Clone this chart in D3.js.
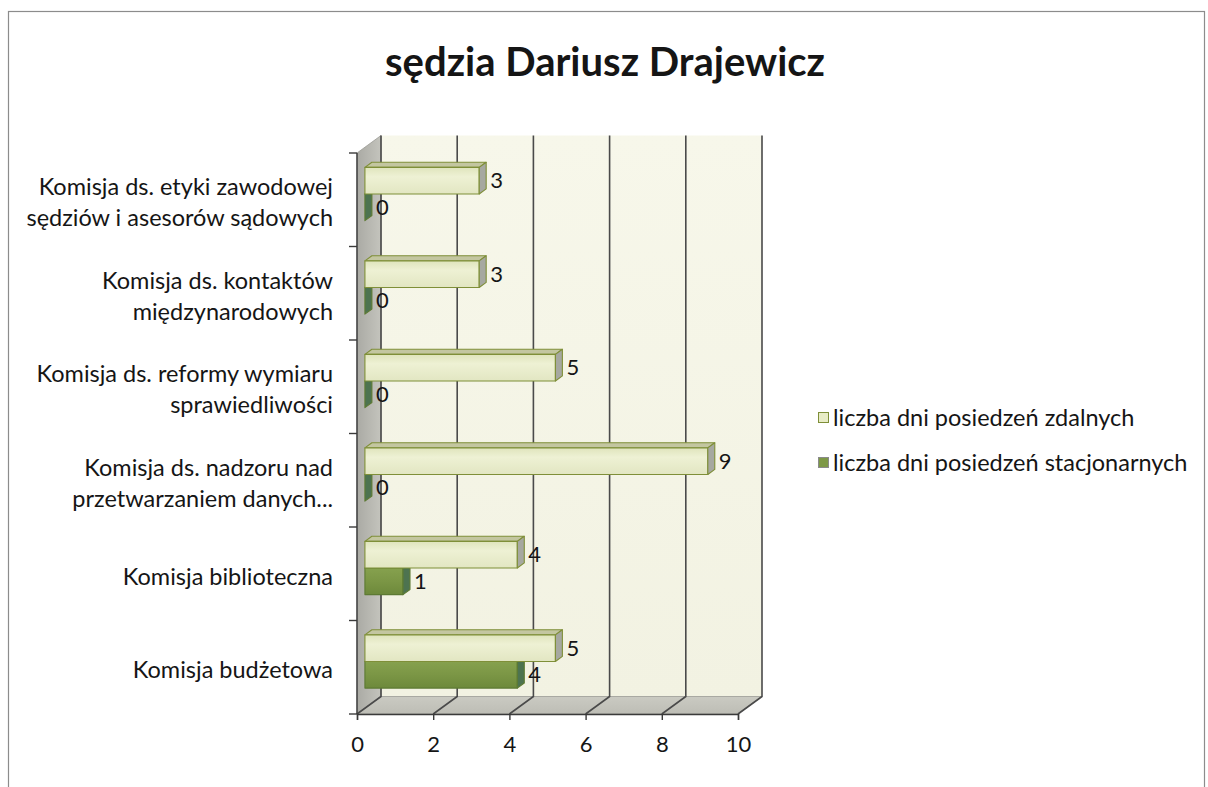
<!DOCTYPE html>
<html>
<head>
<meta charset="utf-8">
<script src="https://cdn.jsdelivr.net/npm/d3@7"></script>
<style>
  html, body { margin: 0; padding: 0; background: #fff; }
  svg { display: block; }
  text { font-family: Lato, "Open Sans", sans-serif; fill: #151515; }
</style>
</head>
<body>
<svg id="chart" width="1208" height="787"></svg>
<script>
// ---- data ----
const title = "sędzia Dariusz Drajewicz";
const categories = [
  "Komisja ds. etyki zawodowej\nsędziów i asesorów sądowych",
  "Komisja ds. kontaktów\nmiędzynarodowych",
  "Komisja ds. reformy wymiaru\nsprawiedliwości",
  "Komisja ds. nadzoru nad\nprzetwarzaniem danych...",
  "Komisja biblioteczna",
  "Komisja budżetowa"
];
const seriesNames = ["liczba dni posiedzeń zdalnych", "liczba dni posiedzeń stacjonarnych"];
const zdalne = [3, 3, 5, 9, 4, 5];
const stacjonarne = [0, 0, 0, 0, 1, 4];
const xTicks = [0, 2, 4, 6, 8, 10];

// ---- layout ----
const svg = d3.select("#chart");
const DX = 24, DY = -17.5;       // depth offset of the back wall
const F1 = 0.33, F2 = 0.62;      // bar front / back depth
const x = d3.scaleLinear().domain([0, 10]).range([357, 738]);
const yCat = d3.scaleBand().domain(categories).range([153, 714]).padding(0);
const ySer = d3.scaleBand().domain(seriesNames).range([0, yCat.bandwidth()])
  .paddingInner(0).paddingOuter(0.757);
const yTop = 153, yBot = 714;
const P = (v, yy, d) => [x(v) + d * DX, yy + d * DY];
const poly = pts => "M" + pts.map(p => p.join(",")).join("L") + "Z";
const LABEL = "23.5px";

const defs = svg.append("defs");
function grad(id, stops, x2 = 0, y2 = 1) {
  const g = defs.append("linearGradient").attr("id", id)
    .attr("x1", 0).attr("y1", 0).attr("x2", x2).attr("y2", y2);
  stops.forEach(([o, c]) => g.append("stop").attr("offset", o).attr("stop-color", c));
}
grad("gBack", [[0, "#f7f7ea"], [1, "#f2f2e2"]]);
grad("gLeft", [[0, "#aaaaa4"], [1, "#c4c4bd"]], 1, 0);
grad("gFloor", [[0, "#cacac2"], [1, "#bdbdb5"]]);
grad("gFrontA", [[0, "#dfe4bc"], [0.35, "#eef1d4"], [1, "#e2e6c2"]]);
grad("gFrontB", [[0, "#86a14e"], [0.5, "#7b9645"], [1, "#6d893b"]]);

// frame
svg.append("rect").attr("x", 8.5).attr("y", 11.5).attr("width", 1196).attr("height", 800)
  .attr("fill", "none").attr("stroke", "#8c8c8c").attr("stroke-width", 1.2);

// title
svg.append("text").attr("x", 605).attr("y", 76).attr("text-anchor", "middle")
  .style("font-size", "40px").style("font-weight", "bold").attr("fill", "#1a1a1a").text(title);

// walls
svg.append("path").attr("d", poly([P(0, yTop, 1), P(10, yTop, 1), P(10, yBot, 1), P(0, yBot, 1)]))
  .attr("fill", "url(#gBack)");
svg.append("path").attr("d", poly([P(0, yTop, 0), P(0, yTop, 1), P(0, yBot, 1), P(0, yBot, 0)]))
  .attr("fill", "url(#gLeft)").attr("stroke", "#9a9a94").attr("stroke-width", 0.8);
svg.append("path").attr("d", poly([P(0, yBot, 0), P(0, yBot, 1), P(10, yBot, 1), P(10, yBot, 0)]))
  .attr("fill", "url(#gFloor)").attr("stroke", "#9a9a94").attr("stroke-width", 0.8);

// gridlines (back wall + floor)
const grid = svg.append("g").attr("stroke", "#4a4a4a").attr("stroke-width", 1.6).attr("fill", "none");
xTicks.forEach(v => {
  grid.append("path").attr("d", "M" + P(v, yTop, 1) + "L" + P(v, yBot, 1) + "L" + P(v, yBot, 0));
});

// x axis (front edge)
const xAxis = d3.axisBottom(x).tickValues(xTicks).tickSize(6).tickPadding(16).tickFormat(d3.format("d"));
const gx = svg.append("g").attr("transform", `translate(0,${yBot})`).call(xAxis);
gx.select(".domain").attr("stroke", "#3a3a3a").attr("stroke-width", 1.4);
gx.selectAll(".tick line").attr("stroke", "#3a3a3a").attr("stroke-width", 1.4);
gx.selectAll(".tick text").style("font-size", "22px").style("font-family", "Lato, sans-serif").attr("fill", "#151515");

// y axis (front vertical edge) with ticks at category boundaries
const yb = categories.map(c => yCat(c)).concat([yBot]);
svg.append("line").attr("x1", x(0)).attr("x2", x(0)).attr("y1", yTop).attr("y2", yBot)
  .attr("stroke", "#3a3a3a").attr("stroke-width", 1.4);
svg.selectAll(".ytick").data(yb).join("line")
  .attr("x1", x(0) - 8).attr("x2", x(0)).attr("y1", d => d).attr("y2", d => d)
  .attr("stroke", "#3a3a3a").attr("stroke-width", 1.4);

// category labels
categories.forEach(c => {
  const lines = c.split("\n");
  const cy = yCat(c) + yCat.bandwidth() / 2 + 3;
  const t = svg.append("text").attr("text-anchor", "end").style("font-size", LABEL);
  lines.forEach((ln, i) => {
    t.append("tspan").attr("x", 333)
      .attr("y", cy + (i - (lines.length - 1) / 2) * 31).attr("dy", "0.35em").text(ln);
  });
});

// bars (bottom categories first, lower series first)
const series = [
  { name: seriesNames[0], values: zdalne, front: "url(#gFrontA)", top: "#c3c6a0", side: "#a6a8a0", stroke: "#7f8f38" },
  { name: seriesNames[1], values: stacjonarne, front: "url(#gFrontB)", top: "#8aa456", side: "#4d7350", stroke: "#5d7a33" }
];
const barsG = svg.append("g");
for (let ci = categories.length - 1; ci >= 0; ci--) {
  for (let si = series.length - 1; si >= 0; si--) {
    const s = series[si];
    const v = s.values[ci];
    const t = yCat(categories[ci]) + ySer(s.name);
    const b = t + ySer.bandwidth();
    const g = barsG.append("g").attr("stroke", s.stroke).attr("stroke-width", 1.1).attr("stroke-linejoin", "round");
    g.append("path").attr("d", poly([P(0, t, F1), P(v, t, F1), P(v, t, F2), P(0, t, F2)])).attr("fill", s.top);
    if (v > 0) g.append("path").attr("d", poly([P(0, t, F1), P(v, t, F1), P(v, b, F1), P(0, b, F1)])).attr("fill", s.front);
    g.append("path").attr("d", poly([P(v, t, F1), P(v, t, F2), P(v, b, F2), P(v, b, F1)])).attr("fill", s.side);
    const lp = P(v, (t + b) / 2, F2);
    svg.append("text").attr("x", lp[0] + 4).attr("y", (t + b) / 2 + F1 * DY).attr("dy", "0.35em")
      .style("font-size", "22px").text(v);
  }
}

// legend
const lg = svg.append("g");
series.forEach((s, i) => {
  const cy = 418 + i * 45;
  lg.append("rect").attr("x", 818.5).attr("y", cy - 5.5).attr("width", 10).attr("height", 10)
    .attr("fill", i === 0 ? "#e8ecc6" : "#7d9846").attr("stroke", i === 0 ? "#7f8f38" : "#8a8a8a");
  lg.append("text").attr("x", 833).attr("y", cy).attr("dy", "0.35em").style("font-size", LABEL).text(s.name);
});
</script>
</body>
</html>
